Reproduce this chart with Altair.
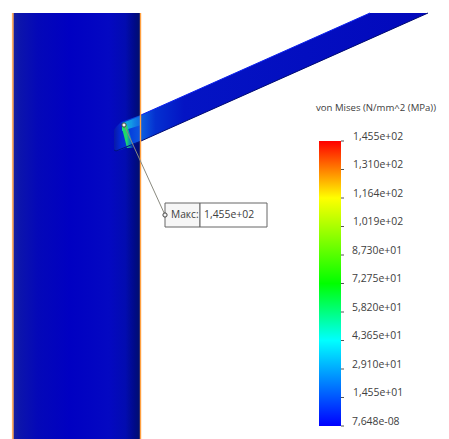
import altair as alt
import pandas as pd

FONT = "Open Sans"
# legend
legend_title = "von Mises (N/mm^2 (MPa))"
tick_labels = ["1,455e+02", "1,310e+02", "1,164e+02", "1,019e+02", "8,730e+01", "7,275e+01",
               "5,820e+01", "4,365e+01", "2,910e+01", "1,455e+01", "7,648e-08"]
tick_pos = [141, 169.5, 198, 226.5, 255, 283.5, 312, 340.5, 369, 397.5, 426]
label_pos = [137, 165, 194, 222, 251, 279, 308, 336, 365, 393, 422]
label_x = [353, 353, 353, 353, 352, 352, 352, 352, 352, 353, 352]
bar_stops = [("#ff0000", 0), ("#ffff00", 0.2), ("#00ff00", 0.5), ("#00ffff", 0.7), ("#0000ff", 1)]

# column
col_stops = [("#1a2498", 0), ("#0c14ac", 0.06), ("#0408b8", 0.2), ("#0000c2", 0.45),
             ("#0408c2", 0.75), ("#020cb0", 0.88), ("#000a88", 0.95), ("#001068", 1)]
# beam outline
beam_x = [141, 370, 428]
beam_top = [115, 13, 13]
beam_bot = [141, 39, 13]
beam_stops = [("#0c60e0", 0), ("#0430d0", 0.05), ("#0414c4", 0.15), ("#0208bc", 1)]
# joint plate
plate_x = [114, 116, 121, 141]
plate_top = [130, 127, 122, 115]
plate_bot = [150, 151, 150, 141]
plate_stops = [("#0818a8", 0), ("#0428d0", 0.22), ("#0640dc", 0.6), ("#0c58e0", 1)]
# bright band along the plate's upper edge
band_x = [122, 141]
band_top = [123, 116]
band_bot = [131, 125]
band_stops = [("rgba(20,190,210,1)", 0), ("rgba(20,160,230,0.9)", 0.5), ("rgba(20,120,230,0.5)", 1)]
# hot streak
hot_x = [122, 127, 134]
hot_top = [125, 125, 147]
hot_bot = [128, 148, 148]
hot_stops = [("rgba(30,230,90,0.95)", 0), ("rgba(30,215,110,1)", 0.4),
             ("rgba(10,150,200,0.6)", 0.75), ("rgba(10,70,220,0)", 1)]
# callout
lead_x = [124, 165]
lead_y = [125, 215]


def grad(stops, horizontal=True):
    return alt.LinearGradient(
        gradient="linear",
        stops=[alt.GradientStop(color=c, offset=o) for c, o in stops],
        x1=0, x2=1 if horizontal else 0, y1=0, y2=0 if horizontal else 1,
    )


X = alt.Scale(domain=[8, 441], range=[0, 433])
Y = alt.Scale(domain=[8, 439], range=[0, 431])
ex = dict(scale=X, axis=None)
ey = dict(scale=Y, axis=None)


def rect(x0, x1, y0, y1, **kw):
    return alt.Chart(pd.DataFrame({"a": [x0], "b": [x1], "c": [y0], "d": [y1]})).mark_rect(**kw).encode(
        x=alt.X("a:Q", **ex), x2="b:Q", y=alt.Y("c:Q", **ey), y2="d:Q")


def area(xs, t, b, fill):
    return alt.Chart(pd.DataFrame({"x": xs, "t": t, "b": b})).mark_area(fill=fill, interpolate="linear").encode(
        x=alt.X("x:Q", **ex), y=alt.Y("t:Q", **ey), y2="b:Q")


def line(xs, ys, order=True, **kw):
    return alt.Chart(pd.DataFrame({"x": xs, "y": ys, "i": range(len(xs))})).mark_line(**kw).encode(
        x=alt.X("x:Q", **ex), y=alt.Y("y:Q", **ey), order="i:Q")


def text(df, **kw):
    return alt.Chart(df).mark_text(font=FONT, align="left", baseline="middle", color="#404040", **kw).encode(
        x=alt.X("x:Q", **ex), y=alt.Y("y:Q", **ey), text="t:N")


layers = [
    rect(12, 141, 13, 439, fill=grad(col_stops)),
    line([12.8, 12.8], [13, 439], color="#ffae60", strokeWidth=1.8),
    area(beam_x, beam_top, beam_bot, grad(beam_stops)),
    line(beam_x[:2], beam_top[:2], color="#0a20f0", strokeWidth=1),
    line([141, 428], [141, 13], color="#000a70", strokeWidth=1),
    area(plate_x, plate_top, plate_bot, grad(plate_stops)),
    area(band_x, band_top, band_bot, grad(band_stops)),
    area(hot_x, hot_top, hot_bot, grad(hot_stops)),
    line([114, 116, 141], [150, 151, 141], color="#001080", strokeWidth=1),
    line([140.5, 140.5], [13, 439], color="#ffa040", strokeWidth=1.4),
    line(lead_x, lead_y, color="#8a8a80", strokeWidth=1),
    alt.Chart(pd.DataFrame({"x": lead_x[:1], "y": lead_y[:1]})).mark_point(
        filled=True, fill="#f4f4f4", stroke="#444444", strokeWidth=1, size=18, opacity=1
    ).encode(x=alt.X("x:Q", **ex), y=alt.Y("y:Q", **ey)),
    rect(165, 200, 203, 227, fill="#f6f6f6", stroke="#666666", strokeWidth=1),
    rect(200, 267, 203, 227, fill="#ffffff", stroke="#666666", strokeWidth=1),
    alt.Chart(pd.DataFrame({"x": lead_x[1:], "y": lead_y[1:]})).mark_point(
        filled=True, fill="#f4f4f4", stroke="#444444", strokeWidth=1, size=18, opacity=1
    ).encode(x=alt.X("x:Q", **ex), y=alt.Y("y:Q", **ey)),
    text(pd.DataFrame({"x": [171], "y": [215], "t": ["Макс:"]}), fontSize=10.2),
    text(pd.DataFrame({"x": [204], "y": [215], "t": ["1,455e+02"]}), fontSize=10.4),
    text(pd.DataFrame({"x": [316], "y": [108], "t": [legend_title]}), fontSize=9.6),
    rect(319, 341, 141, 426, fill=grad(bar_stops, False)),
    alt.Chart(pd.DataFrame({"y": tick_pos, "a": [341] * 11, "b": [344] * 11})).mark_rule(color="#555555").encode(
        x=alt.X("a:Q", **ex), x2="b:Q", y=alt.Y("y:Q", **ey)),
    text(pd.DataFrame({"x": label_x, "y": label_pos, "t": tick_labels}), fontSize=10.4),
]

chart = alt.layer(*layers).properties(
    width=433, height=431, padding=0, autosize=alt.AutoSizeParams(type="none"),
    background="white",
).configure_view(stroke=None)

chart.save("out.html", embed_options={"renderer": "svg", "actions": False})
